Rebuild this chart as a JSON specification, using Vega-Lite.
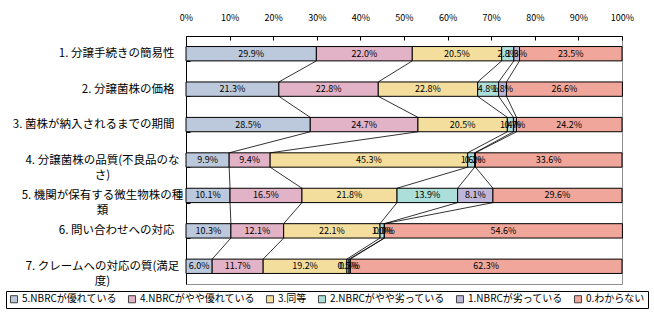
{
  "$schema": "https://vega.github.io/schema/vega-lite/v6.json",
  "width": 436,
  "height": 248,
  "autosize": {"type": "none"},
  "padding": {"left": 186, "top": 36, "right": 32, "bottom": 37},
  "background": "white",
  "config": {
    "view": {"stroke": "#909090", "strokeWidth": 1},
    "font": "Noto Sans CJK JP",
    "axis": {"grid": false, "domainColor": "black", "tickColor": "black", "labelColor": "black"}
  },
  "data": {
    "values": [
      {"item": "1. 分譲手続きの簡易性", "series": "5.NBRCが優れている", "value": 29.9},
      {"item": "1. 分譲手続きの簡易性", "series": "4.NBRCがやや優れている", "value": 22.0},
      {"item": "1. 分譲手続きの簡易性", "series": "3.同等", "value": 20.5},
      {"item": "1. 分譲手続きの簡易性", "series": "2.NBRCがやや劣っている", "value": 2.8},
      {"item": "1. 分譲手続きの簡易性", "series": "1.NBRCが劣っている", "value": 1.3},
      {"item": "1. 分譲手続きの簡易性", "series": "0.わからない", "value": 23.5},
      {"item": "2. 分譲菌株の価格", "series": "5.NBRCが優れている", "value": 21.3},
      {"item": "2. 分譲菌株の価格", "series": "4.NBRCがやや優れている", "value": 22.8},
      {"item": "2. 分譲菌株の価格", "series": "3.同等", "value": 22.8},
      {"item": "2. 分譲菌株の価格", "series": "2.NBRCがやや劣っている", "value": 4.8},
      {"item": "2. 分譲菌株の価格", "series": "1.NBRCが劣っている", "value": 1.8},
      {"item": "2. 分譲菌株の価格", "series": "0.わからない", "value": 26.6},
      {"item": "3. 菌株が納入されるまでの期間", "series": "5.NBRCが優れている", "value": 28.5},
      {"item": "3. 菌株が納入されるまでの期間", "series": "4.NBRCがやや優れている", "value": 24.7},
      {"item": "3. 菌株が納入されるまでの期間", "series": "3.同等", "value": 20.5},
      {"item": "3. 菌株が納入されるまでの期間", "series": "2.NBRCがやや劣っている", "value": 1.4},
      {"item": "3. 菌株が納入されるまでの期間", "series": "1.NBRCが劣っている", "value": 0.7},
      {"item": "3. 菌株が納入されるまでの期間", "series": "0.わからない", "value": 24.2},
      {"item": "4. 分譲菌株の品質(不良品のな|さ)", "series": "5.NBRCが優れている", "value": 9.9},
      {"item": "4. 分譲菌株の品質(不良品のな|さ)", "series": "4.NBRCがやや優れている", "value": 9.4},
      {"item": "4. 分譲菌株の品質(不良品のな|さ)", "series": "3.同等", "value": 45.3},
      {"item": "4. 分譲菌株の品質(不良品のな|さ)", "series": "2.NBRCがやや劣っている", "value": 1.6},
      {"item": "4. 分譲菌株の品質(不良品のな|さ)", "series": "1.NBRCが劣っている", "value": 0.2},
      {"item": "4. 分譲菌株の品質(不良品のな|さ)", "series": "0.わからない", "value": 33.6},
      {"item": "5. 機関が保有する微生物株の種|類", "series": "5.NBRCが優れている", "value": 10.1},
      {"item": "5. 機関が保有する微生物株の種|類", "series": "4.NBRCがやや優れている", "value": 16.5},
      {"item": "5. 機関が保有する微生物株の種|類", "series": "3.同等", "value": 21.8},
      {"item": "5. 機関が保有する微生物株の種|類", "series": "2.NBRCがやや劣っている", "value": 13.9},
      {"item": "5. 機関が保有する微生物株の種|類", "series": "1.NBRCが劣っている", "value": 8.1},
      {"item": "5. 機関が保有する微生物株の種|類", "series": "0.わからない", "value": 29.6},
      {"item": "6. 問い合わせへの対応", "series": "5.NBRCが優れている", "value": 10.3},
      {"item": "6. 問い合わせへの対応", "series": "4.NBRCがやや優れている", "value": 12.1},
      {"item": "6. 問い合わせへの対応", "series": "3.同等", "value": 22.1},
      {"item": "6. 問い合わせへの対応", "series": "2.NBRCがやや劣っている", "value": 1.0},
      {"item": "6. 問い合わせへの対応", "series": "1.NBRCが劣っている", "value": 0.0},
      {"item": "6. 問い合わせへの対応", "series": "0.わからない", "value": 54.6},
      {"item": "7. クレームへの対応の質(満足|度)", "series": "5.NBRCが優れている", "value": 6.0},
      {"item": "7. クレームへの対応の質(満足|度)", "series": "4.NBRCがやや優れている", "value": 11.7},
      {"item": "7. クレームへの対応の質(満足|度)", "series": "3.同等", "value": 19.2},
      {"item": "7. クレームへの対応の質(満足|度)", "series": "2.NBRCがやや劣っている", "value": 0.5},
      {"item": "7. クレームへの対応の質(満足|度)", "series": "1.NBRCが劣っている", "value": 0.3},
      {"item": "7. クレームへの対応の質(満足|度)", "series": "0.わからない", "value": 62.3}
    ]
  },
  "transform": [
    {"window": [{"op": "sum", "field": "value", "as": "cumEnd"}], "groupby": ["item"], "sort": [{"field": "series", "order": "descending"}], "frame": [null, 0]},
    {"calculate": "datum.cumEnd - datum.value", "as": "cumStart"},
    {"calculate": "datum.cumEnd - datum.value / 2", "as": "mid"},
    {"calculate": "format(datum.value, '.1f') + '%'", "as": "label"}
  ],
  "layer": [
    {
      "mark": {"type": "bar", "stroke": "black", "strokeWidth": 1},
      "encoding": {
        "y": {
          "field": "item", "type": "nominal", "title": null,
          "scale": {"paddingInner": 0.595, "paddingOuter": 0.2975},
          "axis": {
            "orient": "left", "tickBand": "extent", "tickSize": -4,
            "labelPadding": {"condition": {"test": "indexof(datum.label, '|') >= 0", "value": 88}, "value": 16},
            "labelFontSize": 11.5, "labelFontWeight": "normal", "labelLineHeight": 15, "labelLimit": 300,
            "labelAlign": {"condition": {"test": "indexof(datum.label, '|') >= 0", "value": "center"}, "value": "right"},
            "labelExpr": "indexof(datum.label, '|') >= 0 ? split(datum.label, '|') : datum.label"
          }
        },
        "x": {
          "field": "cumStart", "type": "quantitative", "title": null,
          "scale": {"domain": [0, 100], "nice": false},
          "axis": {
            "orient": "top", "values": [0, 10, 20, 30, 40, 50, 60, 70, 80, 90, 100],
            "labelExpr": "datum.value + '%'", "tickSize": -4, "labelPadding": 18,
            "labelFontSize": 9, "labelFlush": false
          }
        },
        "x2": {"field": "cumEnd"},
        "color": {
          "field": "series", "type": "nominal",
          "scale": {
            "domain": ["5.NBRCが優れている", "4.NBRCがやや優れている", "3.同等", "2.NBRCがやや劣っている", "1.NBRCが劣っている", "0.わからない"],
            "range": ["#BCC8DC", "#E2B2C6", "#F3DE9E", "#ACDEDA", "#BEB6D8", "#F0A69A"]
          },
          "legend": {
            "orient": "none", "legendX": -180, "legendY": 255, "title": null,
            "direction": "horizontal", "columns": 6, "columnPadding": 9,
            "strokeColor": "black", "padding": 3, "symbolType": "square", "symbolSize": 50,
            "symbolStrokeColor": "#404040", "symbolStrokeWidth": 1, "symbolOpacity": 1,
            "labelFontSize": 10, "labelColor": "black", "labelOffset": 3, "labelLimit": 200
          }
        }
      }
    },
    {
      "transform": [
        {"window": [{"op": "lead", "field": "cumEnd", "as": "nextEnd"}, {"op": "lead", "field": "item", "as": "nextItem"}], "groupby": ["series"], "sort": [{"field": "item", "order": "ascending"}]},
        {"filter": "datum.nextItem != null && datum.series != '0.わからない'"}
      ],
      "mark": {"type": "rule", "color": "black", "strokeWidth": 0.8, "yOffset": 7.2, "y2Offset": -7.2},
      "encoding": {
        "x": {"field": "cumEnd", "type": "quantitative"},
        "x2": {"field": "nextEnd"},
        "y": {"field": "item", "type": "nominal"},
        "y2": {"field": "nextItem"}
      }
    },
    {
      "mark": {"type": "text", "fontSize": 9, "color": "black"},
      "encoding": {
        "x": {"field": "mid", "type": "quantitative"},
        "y": {"field": "item", "type": "nominal"},
        "text": {"field": "label"}
      }
    }
  ]
}
